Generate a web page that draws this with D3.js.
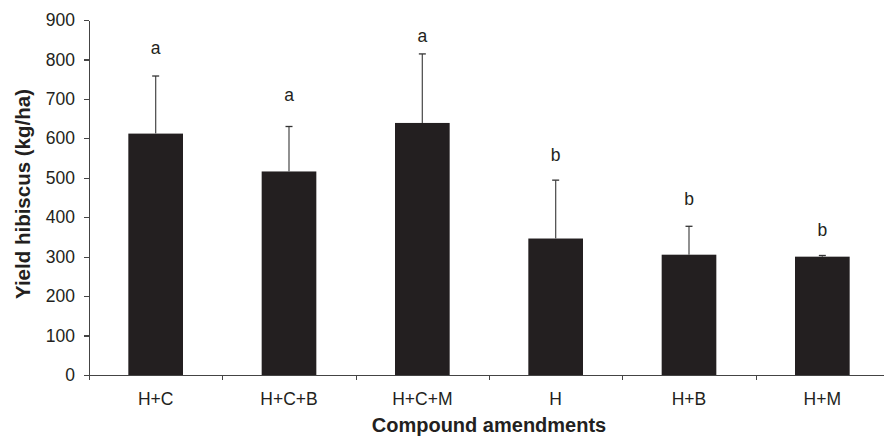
<html>
<head>
<script src="https://d3js.org/d3.v7.min.js"></script>
<style>
body {
    margin: 0;
    padding: 0;
    background: #fff;
}
svg {
    font-family: Arial, 'Liberation Sans', sans-serif;
}
.axis path, .axis line {
    fill: none;
    stroke: #444;
    stroke-width: 1.2;
    shape-rendering: crispEdges;
}
.axis text {
    fill: #231f20;
    font-size: 17.5px;
}
</style>
</head>
<body>
<script>
var categories = ["H+C", "H+C+B", "H+C+M", "H", "H+B", "H+M"];
var yieldMeans = [612, 516, 639, 346, 305, 300];
var errorTops = [758, 630, 814, 494, 377, 303];
var letters = ["a", "a", "a", "b", "b", "b"];
var letterLevels = [814, 695, 844, 543, 431, 352];
var yTicks = [0, 100, 200, 300, 400, 500, 600, 700, 800, 900];

var width = 884, height = 436;
var plotLeft = 89, plotRight = 889, plotTop = 20, plotBottom = 375;

var svg = d3.select("body")
    .append("svg")
    .attr("width", width)
    .attr("height", height);

var x = d3.scaleBand()
    .domain(categories)
    .range([plotLeft, plotRight])
    .paddingInner(0.59)
    .paddingOuter(0.295);

var xEdge = d3.scaleLinear()
    .domain([0, categories.length])
    .range([plotLeft, plotRight]);

var y = d3.scaleLinear()
    .domain([0, 900])
    .range([plotBottom, plotTop]);

// bars
svg.selectAll("rect.bar")
    .data(categories)
    .enter().append("rect")
    .attr("class", "bar")
    .attr("x", function (d) { return x(d); })
    .attr("width", x.bandwidth())
    .attr("y", function (d, i) { return y(yieldMeans[i]); })
    .attr("height", function (d, i) { return y(0) - y(yieldMeans[i]); })
    .attr("fill", "#231f20");

// error bars (upper only)
var errs = svg.selectAll("g.err")
    .data(categories)
    .enter().append("g")
    .attr("class", "err");

errs.append("line")
    .attr("x1", function (d) { return x(d) + x.bandwidth() / 2; })
    .attr("x2", function (d) { return x(d) + x.bandwidth() / 2; })
    .attr("y1", function (d, i) { return y(yieldMeans[i]); })
    .attr("y2", function (d, i) { return y(errorTops[i]); })
    .attr("stroke", "#555")
    .attr("stroke-width", 1.3);

errs.append("line")
    .attr("x1", function (d) { return x(d) + x.bandwidth() / 2 - 3.5; })
    .attr("x2", function (d) { return x(d) + x.bandwidth() / 2 + 3.5; })
    .attr("y1", function (d, i) { return y(errorTops[i]); })
    .attr("y2", function (d, i) { return y(errorTops[i]); })
    .attr("stroke", "#333")
    .attr("stroke-width", 1.3);

// significance letters
svg.selectAll("text.letter")
    .data(categories)
    .enter().append("text")
    .attr("class", "letter")
    .attr("x", function (d) { return x(d) + x.bandwidth() / 2; })
    .attr("y", function (d, i) { return y(letterLevels[i]); })
    .attr("text-anchor", "middle")
    .attr("font-size", "17.5px")
    .attr("fill", "#231f20")
    .text(function (d, i) { return letters[i]; });

// y axis
var yAxis = d3.axisLeft(y)
    .tickValues(yTicks)
    .tickSize(5)
    .tickPadding(9)
    .tickSizeOuter(0);

svg.append("g")
    .attr("class", "y axis")
    .attr("transform", "translate(" + plotLeft + ",0)")
    .call(yAxis);

// x axis: ticks between categories, labels centred
var xAxis = d3.axisBottom(xEdge)
    .tickValues(d3.range(0, categories.length + 1))
    .tickSize(5)
    .tickSizeOuter(0)
    .tickFormat("");

svg.append("g")
    .attr("class", "x axis")
    .attr("transform", "translate(0," + plotBottom + ")")
    .call(xAxis);

svg.append("g")
    .attr("class", "axis")
    .selectAll("text")
    .data(categories)
    .enter().append("text")
    .attr("x", function (d) { return x(d) + x.bandwidth() / 2; })
    .attr("y", plotBottom + 30)
    .attr("text-anchor", "middle")
    .text(function (d) { return d; });

// axis titles
svg.append("text")
    .attr("x", (plotLeft + plotRight) / 2)
    .attr("y", 432)
    .attr("text-anchor", "middle")
    .attr("font-size", "20px")
    .attr("font-weight", "bold")
    .attr("fill", "#231f20")
    .text("Compound amendments");

svg.append("text")
    .attr("transform", "translate(30,194) rotate(-90)")
    .attr("text-anchor", "middle")
    .attr("font-size", "20.5px")
    .attr("font-weight", "bold")
    .attr("fill", "#231f20")
    .text("Yield hibiscus (kg/ha)");
</script>
</body>
</html>
